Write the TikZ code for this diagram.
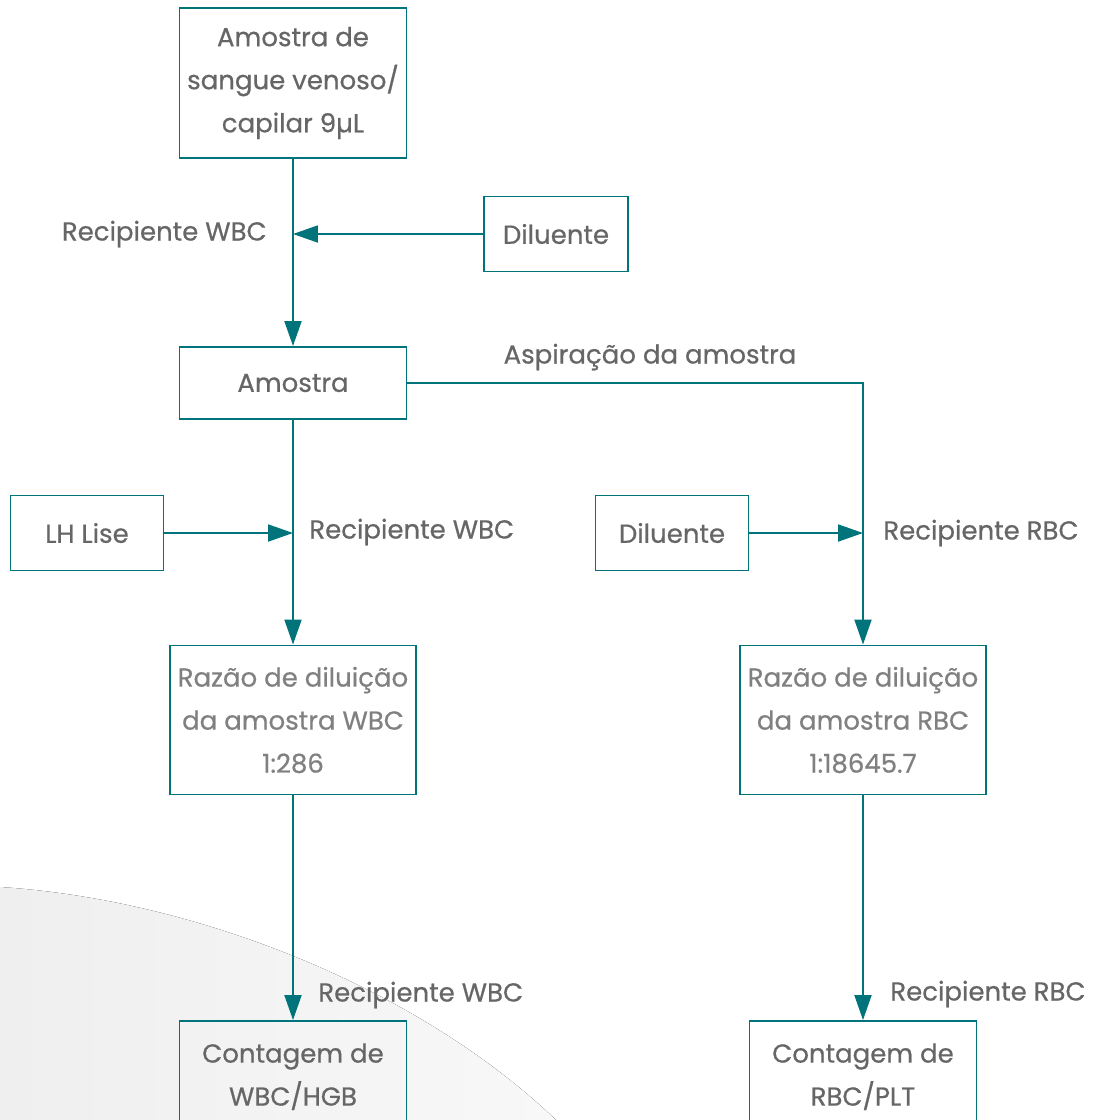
\documentclass[tikz,border=0pt]{standalone}
\usepackage{fontspec}
\setmainfont{Poppins}[FakeBold=0.6]
\usetikzlibrary{arrows.meta,positioning,calc}
\definecolor{flowteal}{RGB}{0,116,122}
\definecolor{textgray}{RGB}{102,102,102}
\definecolor{ratiogray}{RGB}{128,128,128}
\definecolor{bgleft}{RGB}{239,239,239}
\definecolor{bgright}{RGB}{248,248,248}

\begin{document}
\begin{tikzpicture}[x=0.02cm, y=-0.02cm,
    box/.style={rectangle, draw=flowteal, line width=1.1pt, text=textgray, align=center, inner sep=0pt, font=\fontsize{14.8pt}{24.5pt}\selectfont},
    bigbox/.style={box, minimum width=4.54cm, minimum height=3cm},
    smallbox/.style={box, minimum width=3.06cm, minimum height=1.5cm},
    ratiobox/.style={box, text=ratiogray, minimum width=4.92cm, minimum height=2.98cm},
    label/.style={text=textgray, inner sep=0pt, font=\fontsize{14.8pt}{18pt}\selectfont},
    flow/.style={-{Triangle[length=0.5cm, width=0.34cm]}, line width=1.1pt, flowteal}
]
\useasboundingbox (0,0) rectangle (1102,1120);

% Background
\fill[left color=bgleft, right color=bgright] (0,887) .. controls (200,900) and (420,990) .. (556,1120) -- (0,1120) -- cycle;

% Boxes
\node[bigbox] (sample) at (293,83) {Amostra de\\sangue venoso/\\capilar 9µL};
\node[box, minimum width=2.88cm, minimum height=1.5cm] (dil1) at (556,234) {Diluente};
\node[box, minimum width=4.54cm, minimum height=1.44cm] (amostra) at (293,383) {Amostra};
\node[smallbox] (lh) at (87,533) {LH Lise};
\node[smallbox] (dil2) at (672,533) {Diluente};
\node[ratiobox] (wbc) at (293,720) {Razão de diluição\\da amostra WBC\\1:286};
\node[ratiobox] (rbc) at (863,720) {Razão de diluição\\da amostra RBC\\1:18645.7};
\node[bigbox] (cwbc) at (293,1096) {Contagem de\\WBC/HGB\\~};
\node[bigbox] (crbc) at (863,1096) {Contagem de\\RBC/PLT\\~};

% Labels
\node[label, anchor=east] (lblsample) at (267,234) {Recipiente WBC};
\node[label] (lblasp) at (650,357) {Aspiração da amostra};
\node[label, anchor=west] (lbllh) at (309,532) {Recipiente WBC};
\node[label, anchor=west] (lbldil) at (883,533) {Recipiente RBC};
\node[label, anchor=west] (lblcwbc) at (318,995) {Recipiente WBC};
\node[label, anchor=west] (lblcrbc) at (890,994) {Recipiente RBC};

% Connectors
\draw[flow] (sample) -- (amostra);
\draw[flow] (dil1) -- (dil1 -| sample);
\draw[flow] (amostra) -| (rbc);
\draw[flow] (amostra) -- (wbc);
\draw[flow] (lh) -- (lh -| amostra);
\draw[flow] (dil2) -- (dil2 -| rbc);
\draw[flow] (wbc) -- (cwbc);
\draw[flow] (rbc) -- (crbc);

\end{tikzpicture}
\end{document}
